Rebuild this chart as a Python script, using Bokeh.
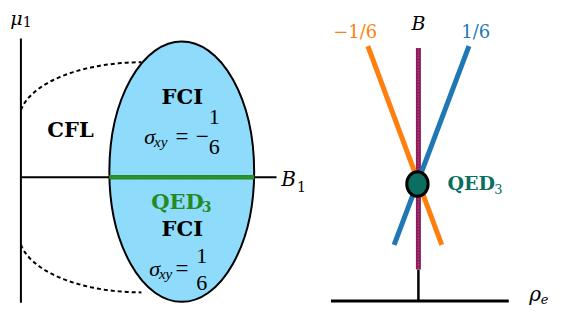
import numpy as np
from bokeh.plotting import figure
from bokeh.models import Range1d
from bokeh.core.properties import value
from bokeh.embed import file_html
from bokeh.resources import INLINE

# ---------------- data (schematic units = reference pixels) ----------------
# Left panel: phase diagram in the (B1, mu1) plane
mu_axis_x = [21, 21]
mu_axis_y = [40, 318]
b1_axis_x = [21, 284]
b1_axis_y = [186, 186]
fci_center = [186.5, 180]
fci_size = [149, 274]            # width, height of the FCI region
qed_line_x = [112, 261]
qed_line_y = [186, 186]
cfl_arc_center = [145, 126]      # upper CFL boundary (lower is mirrored about B1 axis)
cfl_arc_radii = [126, 61]

phase_names = ["CFL", "FCI", "FCI"]
phase_x = [72, 187, 187]
phase_y = [136, 101, 240]
qed_label_left = ["QED", "3"]

# Hall conductance labels (left panel)
sigma_x = [148, 153]
sigma_y = [143, 282]
eq_x = [180, 180]
sign_x = [201, 0]
sign_text = ["−", ""]
frac_x = [220, 207]
frac_num_y = [123, 269]
frac_den_y = [154, 297]

# Right panel: (rho_e, B) diagram
base_x = [340, 523]
base_y = [316, 316]
stem_x = [430, 430]
stem_y = [283, 316]
qed_path_x = [430, 430]
qed_path_y = [50, 283]
minus_line_x = [378, 454]
minus_line_y = [48, 257]
plus_line_x = [482, 405]
plus_line_y = [48, 257]
qed_point = [429, 193]
branch_labels = ["−1/6", "1/6"]
branch_label_x = [365, 489]
branch_label_y = [33, 33]

ORANGE = "#ff7f0e"
BLUE = "#1f77b4"
MAGENTA = "#8e1b5c"
GREEN = "#238b23"
TEAL = "#0a6e60"
FILL = "#8fdbfb"

W, H = 553, 309
p = figure(width=W, height=H, x_range=Range1d(0, 569), y_range=Range1d(325, 0),
           output_backend="svg", toolbar_location=None, min_border=0)
p.axis.visible = False
p.grid.visible = False
p.outline_line_color = None
p.background_fill_color = "white"
p.border_fill_color = "white"

SERIF = value("DejaVu Serif")
LSERIF = value("Liberation Serif")

# ---------------- left panel ----------------
rx, ry = cfl_arc_radii
cx, cy = cfl_arc_center
t0 = np.arccos((mu_axis_x[0] - cx) / rx)
t = np.linspace(t0, np.pi / 2, 60)
ax = cx + rx * np.cos(t)
ay = cy - ry * np.sin(t)
p.line(ax, ay, line_color="black", line_width=2, line_dash="4 3")
p.line(ax, 2 * b1_axis_y[0] - ay, line_color="black", line_width=2, line_dash="4 3")

p.ellipse(x=[fci_center[0]], y=[fci_center[1]], width=[fci_size[0]], height=[fci_size[1]],
          fill_color=FILL, line_color="black", line_width=2)

p.line(mu_axis_x, mu_axis_y, line_color="black", line_width=2)
p.line(b1_axis_x, b1_axis_y, line_color="black", line_width=2)
p.line(qed_line_x, qed_line_y, line_color=GREEN, line_width=4.5)
p.line(qed_line_x, qed_line_y, line_color="#3c9c3c", line_width=1.5, line_alpha=0.8, line_dash="2 1")

p.text(x=phase_x, y=phase_y, text=phase_names, text_font=SERIF, text_font_style="bold",
       text_font_size="21px", text_align="center", text_baseline="middle", text_color="black")
p.text(x=[155], y=[211], text=[qed_label_left[0]], text_font=SERIF, text_font_style="bold",
       text_font_size="21px", text_align="left", text_baseline="middle", text_color=GREEN)
p.text(x=[207], y=[217], text=[qed_label_left[1]], text_font=SERIF, text_font_style="bold",
       text_font_size="14px", text_align="left", text_baseline="middle", text_color=GREEN)

p.text(x=sigma_x, y=sigma_y, text=["σ", "σ"], text_font=LSERIF, text_font_style="italic",
       text_font_size="22px", text_align="left", text_baseline="middle", text_color="black")
p.text(x=[s + 10 for s in sigma_x], y=[s + 6 for s in sigma_y], text=["xy", "xy"], text_font=LSERIF,
       text_font_style="italic", text_font_size="15px", text_align="left", text_baseline="middle",
       text_color="black")
p.text(x=eq_x, y=sigma_y, text=["=", "="], text_font=LSERIF, text_font_size="23px",
       text_align="left", text_baseline="middle", text_color="black")
p.text(x=sign_x, y=sigma_y, text=sign_text, text_font=LSERIF, text_font_size="23px",
       text_align="left", text_baseline="middle", text_color="black")
p.text(x=frac_x, y=frac_num_y, text=["1", "1"], text_font=LSERIF, text_font_size="22px",
       text_align="center", text_baseline="middle", text_color="black")
p.text(x=frac_x, y=frac_den_y, text=["6", "6"], text_font=LSERIF, text_font_size="22px",
       text_align="center", text_baseline="middle", text_color="black")

# axis labels
p.text(x=[10], y=[18], text=["μ"], text_font=SERIF, text_font_style="italic", text_font_size="19px",
       text_align="left", text_baseline="middle", text_color="black")
p.text(x=[23], y=[22], text=["1"], text_font=SERIF, text_font_size="14px",
       text_align="left", text_baseline="middle", text_color="black")
p.text(x=[289], y=[188], text=["B"], text_font=SERIF, text_font_style="italic", text_font_size="20px",
       text_align="left", text_baseline="middle", text_color="black")
p.text(x=[305], y=[196], text=["1"], text_font=SERIF, text_font_size="14px",
       text_align="left", text_baseline="middle", text_color="black")

# ---------------- right panel ----------------
p.line(base_x, base_y, line_color="black", line_width=3)
p.line(stem_x, stem_y, line_color="black", line_width=2.5)
p.line(qed_path_x, qed_path_y, line_color=MAGENTA, line_width=5)
p.line(qed_path_x, qed_path_y, line_color="#b0407a", line_width=1.5, line_alpha=0.7, line_dash="2 1")
p.line(minus_line_x, minus_line_y, line_color=ORANGE, line_width=5)
p.line(plus_line_x, plus_line_y, line_color=BLUE, line_width=5)
p.ellipse(x=[qed_point[0]], y=[qed_point[1]], width=[22], height=[26],
          fill_color=TEAL, line_color="black", line_width=3)

p.text(x=branch_label_x, y=branch_label_y, text=branch_labels, text_font=SERIF,
       text_font_size="18px", text_align="center", text_baseline="middle",
       text_color=[ORANGE, BLUE])
p.text(x=[430], y=[24], text=["B"], text_font=SERIF, text_font_style="italic", text_font_size="19px",
       text_align="center", text_baseline="middle", text_color="black")
p.text(x=[460], y=[192], text=["QED"], text_font=SERIF, text_font_style="bold",
       text_font_size="19px", text_align="left", text_baseline="middle", text_color=TEAL)
p.text(x=[508], y=[198], text=["3"], text_font=SERIF,
       text_font_size="13px", text_align="left", text_baseline="middle", text_color=TEAL)
p.text(x=[544], y=[309], text=["ρ"], text_font=SERIF, text_font_style="italic", text_font_size="20px",
       text_align="left", text_baseline="middle", text_color="black")
p.text(x=[556], y=[314], text=["e"], text_font=SERIF, text_font_style="italic", text_font_size="13px",
       text_align="left", text_baseline="middle", text_color="black")

open("out.html", "w").write(file_html(p, INLINE))
